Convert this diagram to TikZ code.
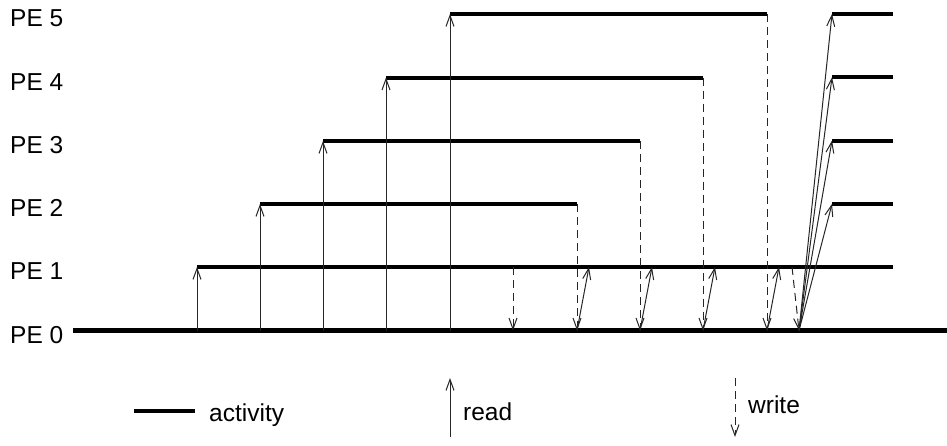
\documentclass[tikz,border=0pt]{standalone}
\usepackage{fontspec}
\setmainfont{Liberation Sans}
\usetikzlibrary{arrows.meta}
\begin{document}
\begin{tikzpicture}[x=1pt,y=-1pt,
  activity/.style={line width=4pt},
  base/.style={line width=5pt},
  readarrow/.style={line width=1pt,black!85,-{Straight Barb[length=11pt,width=8pt,line width=1pt]}},
  writearrow/.style={line width=1pt,black!85,dash pattern=on 8pt off 5pt,-{Straight Barb[length=11pt,width=8pt,line width=1pt]}},
  lbl/.style={font=\fontsize{24.5}{27}\selectfont,inner sep=0pt,anchor=base west}]
\useasboundingbox (0,0) rectangle (947,445);
% levels
\foreach \i/\y in {0/330.5,1/267,2/204,3/141,4/77.5,5/14}{
  \node[lbl] (pe\i) at (10,\y+12.5) {PE \i};
}
% activity lines
\coordinate (z0) at (73,330.5);
\coordinate (zE) at (947,330.5);
\coordinate (s1) at (197,267); \coordinate (e1) at (893,267);
\coordinate (s2) at (260,204); \coordinate (e2) at (577,204);
\coordinate (s3) at (323,141); \coordinate (e3) at (640,141);
\coordinate (s4) at (386,77.5); \coordinate (e4) at (703,77.5);
\coordinate (s5) at (450,14); \coordinate (e5) at (767,14);
\foreach \k in {2,3,4,5}{
  \coordinate (r\k) at (832,{330.5-63.3*\k});
  \coordinate (f\k) at (893,{330.5-63.3*\k});
}
\draw[base] (z0) -- (zE);
\draw[activity] (s1) -- (e1);
\foreach \k in {2,3,4,5}{
  \draw[activity] (s\k) -- (e\k);
  \draw[activity] (r\k) -- (f\k);
}
% reads from PE0
\foreach \k in {1,2,3,4,5}{
  \coordinate (b\k) at (s\k |- z0);
  \draw[readarrow] (b\k) -- (s\k);
}
% writes
\coordinate (w1) at (513,267);
\coordinate (w1b) at (513,330.5);
\draw[writearrow] (w1) -- (w1b);
\foreach \k/\x in {2/577,3/640,4/703,5/767}{
  \coordinate (wb\k) at (\x,330.5);
  \draw[writearrow] (e\k) -- (wb\k);
  \coordinate (rt\k) at ({\x+12},267);
  \draw[readarrow] (wb\k) -- (rt\k);
}
\coordinate (w6) at (792,267);
\coordinate (w6b) at (799,330.5);
\draw[writearrow] (w6) -- (w6b);
\foreach \k in {2,3,4,5}{
  \draw[readarrow] (w6b) -- (r\k);
}
% legend
\coordinate (la) at (134,410.5);
\coordinate (lb) at (195,410.5);
\draw[activity] (la) -- (lb);
\node[lbl] (lact) at (209,421) {activity};
\coordinate (ra) at (450,437);
\coordinate (rb) at (450,378);
\draw[readarrow] (ra) -- (rb);
\node[lbl] (lread) at (463,420) {read};
\coordinate (wa) at (735,378);
\coordinate (wb) at (735,437);
\draw[writearrow] (wa) -- (wb);
\node[lbl] (lwrite) at (748,413) {write};
\end{tikzpicture}
\end{document}
